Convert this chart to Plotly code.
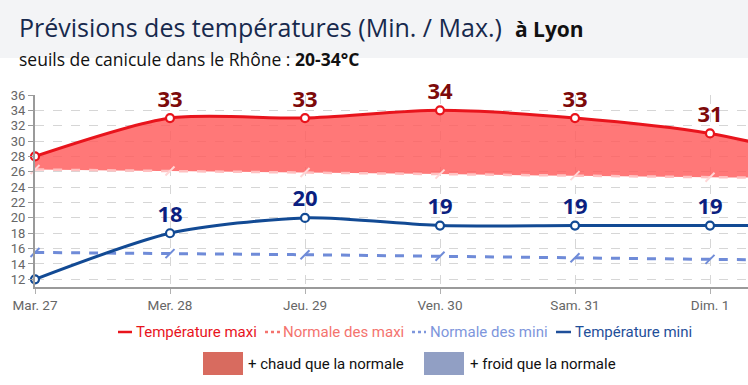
import plotly.graph_objects as go

days = ["Mar. 27", "Mer. 28", "Jeu. 29", "Ven. 30", "Sam. 31", "Dim. 1", "Lun. 2"]
t_max = [28, 33, 33, 34, 33, 31, 27]
t_min = [12, 18, 20, 19, 19, 19, 19]
norm_max = [26.3, 26.1, 25.9, 25.7, 25.5, 25.3, 25.2]
norm_min = [15.5, 15.35, 15.2, 15.0, 14.8, 14.6, 14.45]
label_days_max = [False, True, True, True, True, True, False]
label_days_min = [False, True, True, True, True, True, False]
y_ticks = list(range(12, 37, 2))

W, H = 748, 385
L, T, B = 35, 95, 287
R = W


def px(x):
    return (x - L) / (R - L)


def py(y):
    return (B - y) / (B - T)


x = list(range(len(days)))

fig = go.Figure()

# normal maxi (base for fill)
fig.add_trace(go.Scatter(
    x=x, y=norm_max, mode="lines+markers",
    line=dict(color="#ffc0c0", width=2.5, dash="dash", shape="spline"),
    marker=dict(symbol="line-ne", size=9, line=dict(color="#ffd6d6", width=2)),
    showlegend=False, hoverinfo="skip", cliponaxis=False))
# max temperature with fill
fig.add_trace(go.Scatter(
    x=x, y=t_max, mode="lines", fill="tonexty",
    fillcolor="rgba(255,90,90,0.82)",
    line=dict(color="#e8141c", width=3, shape="spline", smoothing=0.75),
    showlegend=False, hoverinfo="skip"))
fig.add_trace(go.Scatter(
    x=x, y=t_max, mode="markers+text",
    text=[str(v) if s else "" for v, s in zip(t_max, label_days_max)],
    textposition="top center",
    textfont=dict(family="Open Sans", size=22, color="#7d0a0a", weight="bold"),
    marker=dict(symbol="circle", size=8, color="white", line=dict(color="#e8141c", width=2.2)),
    showlegend=False, hoverinfo="skip", cliponaxis=False))

# normal mini
fig.add_trace(go.Scatter(
    x=x, y=norm_min, mode="lines+markers",
    line=dict(color="#6f8bd8", width=3, dash="dash", shape="spline"),
    marker=dict(symbol="line-ne", size=9, line=dict(color="#6f8bd8", width=2)),
    showlegend=False, hoverinfo="skip", cliponaxis=False))
# min temperature
fig.add_trace(go.Scatter(
    x=x, y=t_min, mode="lines",
    line=dict(color="#124a94", width=3, shape="spline", smoothing=0.75),
    showlegend=False, hoverinfo="skip"))
fig.add_trace(go.Scatter(
    x=x, y=t_min, mode="markers+text",
    text=[str(v) if s else "" for v, s in zip(t_min, label_days_min)],
    textposition="top center",
    textfont=dict(family="Open Sans", size=22, color="#0b1f80", weight="bold"),
    marker=dict(symbol="circle", size=8, color="white", line=dict(color="#124a94", width=2.2)),
    showlegend=False, hoverinfo="skip", cliponaxis=False))

shapes = []
annotations = []

# title band
shapes.append(dict(type="rect", xref="paper", yref="paper", x0=px(0), x1=px(W),
                   y0=py(58), y1=py(0), fillcolor="#f3f4f6", line=dict(width=0), layer="below"))
annotations.append(dict(xref="paper", yref="paper", x=px(18), y=py(27), xanchor="left", yanchor="middle",
                        showarrow=False, borderpad=0,
                        text="<span style='color:#17294d'>Prévisions des températures (Min. / Max.)</span>  "
                             "<b><span style='font-size:21px'>à Lyon</span></b>",
                        font=dict(family="Open Sans", size=25, color="#111")))
annotations.append(dict(xref="paper", yref="paper", x=px(18), y=py(59), xanchor="left", yanchor="middle",
                        showarrow=False, borderpad=0,
                        text="seuils de canicule dans le Rhône : <b><span style='font-size:17.5px'>20-34°C</span></b>",
                        font=dict(family="Open Sans", size=17.5, color="#111")))

# legend row 1
leg1 = [
    (118, 132, "#e8141c", "solid", "Température maxi", "#e8141c", 135),
    (265, 280, "#f4736e", "dot", "Normale des maxi", "#f4736e", 282),
    (412, 426, "#7e96dc", "dot", "Normale des mini", "#7e96dc", 429),
    (556, 571, "#1f4f9a", "solid", "Température mini", "#1f4f9a", 574),
]
yl1 = 332
for x0, x1, col, dash, name, tcol, tx in leg1:
    shapes.append(dict(type="line", xref="paper", yref="paper", x0=px(x0), x1=px(x1),
                       y0=py(yl1), y1=py(yl1), line=dict(color=col, width=2.5, dash=dash)))
    annotations.append(dict(xref="paper", yref="paper", x=px(tx), y=py(yl1), xanchor="left", yanchor="middle",
                            showarrow=False, borderpad=0, text=name,
                            font=dict(family="Roboto", size=15, color=tcol)))

# legend row 2
yl2 = 363.5
for x0, x1, col, name, tx in [(203, 243, "#d86b5f", "+ chaud que la normale", 247),
                              (424, 464, "#919fc4", "+ froid que la normale", 469)]:
    shapes.append(dict(type="rect", xref="paper", yref="paper", x0=px(x0), x1=px(x1),
                       y0=py(375), y1=py(352), fillcolor=col, line=dict(width=0)))
    annotations.append(dict(xref="paper", yref="paper", x=px(tx), y=py(yl2), xanchor="left", yanchor="middle",
                            showarrow=False, borderpad=0, text=name,
                            font=dict(family="Roboto", size=15, color="#111")))

fig.update_layout(
    width=W, height=H,
    margin=dict(l=L, r=W - R, t=T, b=H - B),
    paper_bgcolor="white", plot_bgcolor="white",
    shapes=shapes, annotations=annotations,
    showlegend=False,
    xaxis=dict(range=[0, (R - L) / 135.0], tickvals=x, ticktext=days,
               showgrid=True, gridcolor="#d6d6d6", griddash="dash", gridwidth=1,
               showline=True, linecolor="#9a9a9a", linewidth=2,
               ticks="outside", ticklen=5, tickcolor="#b0b0b0",
               tickfont=dict(family="Roboto", size=13.5, color="#666"), zeroline=False,
               fixedrange=True),
    yaxis=dict(range=[11, 36], tickvals=y_ticks,
               showgrid=True, gridcolor="#d6d6d6", griddash="dash", gridwidth=1,
               showline=True, linecolor="#9a9a9a", linewidth=2,
               ticks="outside", ticklen=5, tickcolor="#9a9a9a",
               tickfont=dict(family="Roboto", size=13, color="#666"), zeroline=False,
               fixedrange=True),
)

fig.write_html("out.html", config={"displayModeBar": False},
               post_script="document.body.style.margin='0';")
